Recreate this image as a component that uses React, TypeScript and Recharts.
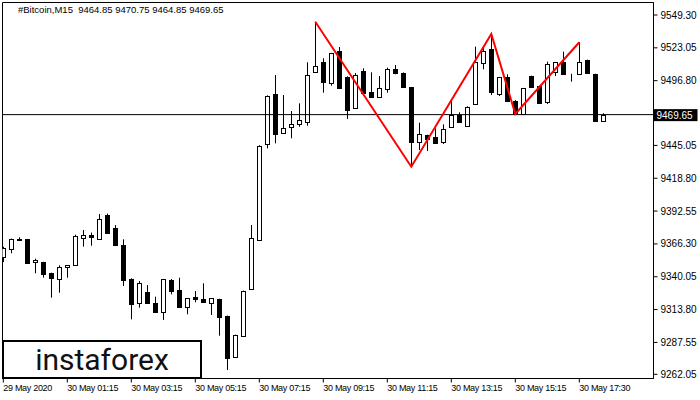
import React from "react";
import {
  Bar,
  ComposedChart,
  Line,
  ReferenceArea,
  ReferenceLine,
  XAxis,
  YAxis,
} from "recharts";

// M15 candles (oldest first)
const opens = [
  9355.6, 9362.0, 9369.6, 9370.0, 9351.6, 9351.8, 9343.0, 9338.5, 9347.6, 9349.2,
  9370.8, 9373.7, 9370.0, 9389.4, 9378.8, 9365.4, 9338.2, 9318.8, 9327.6, 9318.8,
  9311.6, 9337.4, 9329.4, 9315.6, 9324.1, 9322.2, 9318.8, 9322.2, 9308.7, 9276.1,
  9292.9, 9330.0, 9369.4, 9445.9, 9486.1, 9454.7, 9459.5, 9461.9, 9463.5, 9504.0,
  9511.5, 9495.2, 9520.5, 9500.0, 9475.3, 9504.5, 9488.0, 9484.0, 9489.9, 9506.1,
  9503.2, 9491.5, 9448.0, 9453.4, 9451.5, 9448.0, 9459.4, 9469.4, 9460.6, 9477.9,
  9510.7, 9521.9, 9485.9, 9499.5, 9480.5, 9470.2, 9500.5, 9492.5, 9480.0, 9504.0,
  9512.0, 9502.1, 9502.1, 9513.3, 9502.1, 9464.85,
];
const highs = [
  9364.0, 9370.6, 9371.6, 9370.3, 9354.5, 9352.0, 9343.3, 9349.2, 9349.5, 9373.7,
  9377.4, 9375.3, 9390.2, 9390.5, 9381.4, 9370.0, 9338.8, 9336.6, 9333.4, 9324.1,
  9338.3, 9338.2, 9339.3, 9323.0, 9328.6, 9334.8, 9323.0, 9322.5, 9309.0, 9293.8,
  9329.0, 9381.4, 9445.2, 9485.1, 9501.3, 9485.3, 9472.5, 9478.7, 9511.5, 9543.9,
  9514.7, 9519.0, 9523.7, 9500.3, 9502.9, 9506.7, 9503.5, 9500.5, 9507.2, 9509.3,
  9503.4, 9491.8, 9463.2, 9453.6, 9458.7, 9461.9, 9480.5, 9471.5, 9476.3, 9524.0,
  9523.5, 9534.1, 9499.8, 9501.9, 9481.3, 9491.0, 9500.8, 9492.8, 9512.0, 9511.8,
  9520.0, 9502.3, 9527.5, 9513.6, 9502.4, 9470.75,
];
const lows = [
  9351.8, 9358.8, 9369.4, 9351.0, 9342.8, 9339.3, 9323.3, 9327.3, 9339.3, 9349.0,
  9364.1, 9364.9, 9369.7, 9375.0, 9365.2, 9332.6, 9306.0, 9315.3, 9318.5, 9311.8,
  9305.5, 9326.0, 9315.8, 9310.0, 9319.6, 9319.4, 9309.5, 9292.9, 9265.5, 9275.8,
  9292.6, 9329.8, 9369.0, 9442.7, 9446.7, 9454.4, 9450.7, 9460.0, 9460.8, 9503.7,
  9487.2, 9492.8, 9490.9, 9466.2, 9475.0, 9487.0, 9483.7, 9483.7, 9487.2, 9501.9,
  9491.7, 9428.0, 9441.4, 9440.6, 9446.2, 9446.2, 9459.0, 9463.7, 9460.0, 9477.6,
  9505.9, 9485.3, 9484.5, 9480.5, 9469.9, 9469.9, 9491.7, 9478.4, 9478.1, 9500.5,
  9501.6, 9496.0, 9501.9, 9502.4, 9463.9, 9464.85,
];
const closes = [
  9362.8, 9370.0, 9370.2, 9351.3, 9353.4, 9342.5, 9339.3, 9347.6, 9349.2, 9372.6,
  9373.2, 9371.6, 9386.0, 9375.3, 9365.4, 9337.4, 9318.0, 9334.8, 9318.8, 9312.1,
  9338.0, 9328.9, 9316.1, 9322.8, 9322.0, 9319.6, 9322.8, 9308.1, 9274.8, 9293.5,
  9328.6, 9370.8, 9444.8, 9484.8, 9454.2, 9458.7, 9461.9, 9465.4, 9501.3, 9508.5,
  9496.0, 9518.7, 9491.2, 9473.3, 9501.3, 9487.2, 9484.0, 9490.7, 9505.9, 9502.7,
  9492.0, 9448.0, 9453.9, 9450.2, 9447.2, 9457.9, 9469.4, 9464.0, 9476.0, 9511.5,
  9520.8, 9488.0, 9499.5, 9480.8, 9470.2, 9490.7, 9492.0, 9478.7, 9510.1, 9511.5,
  9501.9, 9501.9, 9511.5, 9502.7, 9464.85, 9469.65,
];

// red pattern drawn over the candles
const patternIdx = [39, 51, 61, 64, 72];
const patternPrice = [9543.9, 9428.0, 9534.1, 9470.2, 9527.5];

const priceTicks = [
  9549.3, 9523.05, 9496.8, 9445.05, 9418.8, 9392.55, 9366.3, 9340.05, 9313.8,
  9287.55, 9262.05,
];
const timeTickIdx = [0, 8, 16, 24, 32, 40, 48, 56, 64, 72];
const timeTickLabels = [
  "29 May 2020",
  "30 May 01:15",
  "30 May 03:15",
  "30 May 05:15",
  "30 May 07:15",
  "30 May 09:15",
  "30 May 11:15",
  "30 May 13:15",
  "30 May 15:15",
  "30 May 17:30",
];

const lastPrice = 9469.65;
const title = "#Bitcoin,M15  9464.85 9470.75 9464.85 9469.65";

const X_DOMAIN: [number, number] = [-0.1, 81.275];
const Y_DOMAIN: [number, number] = [9258.7, 9559.3];
const FONT = "'Liberation Sans', Arial, sans-serif";

const data = opens.map((open, i) => {
  const k = patternIdx.indexOf(i);
  return {
    i,
    open,
    high: highs[i],
    low: lows[i],
    close: closes[i],
    pattern: k >= 0 ? patternPrice[k] : null,
  };
});

function Candle(props: any) {
  const { x, y, width, height, payload } = props;
  if (x == null || y == null) return null;
  const { open, high, low, close } = payload;
  const top = Math.min(y, y + height);
  const bot = Math.max(y, y + height);
  const range = high - low || 1;
  const toY = (p: number) => top + ((high - p) / range) * (bot - top);
  const cx = Math.round(x + width / 2) + 0.5;
  const bTop = Math.round(toY(Math.max(open, close))) + 0.5;
  const bBot = Math.max(Math.round(toY(Math.min(open, close))) + 0.5, bTop);
  const up = close >= open;
  return (
    <g>
      <line x1={cx} x2={cx} y1={top} y2={bot} stroke="#000" strokeWidth={1} />
      <rect
        x={cx - 2}
        y={bTop}
        width={4}
        height={bBot - bTop}
        fill={up ? "#fff" : "#000"}
        stroke="#000"
        strokeWidth={1}
      />
    </g>
  );
}

function TimeTick(props: any) {
  const { x, y, payload } = props;
  const k = timeTickIdx.indexOf(payload.value);
  return (
    <text
      x={x}
      y={y}
      dy="0.71em"
      textAnchor="start"
      fill="#000"
      fontSize={9}
      fontFamily={FONT}
      letterSpacing={-0.3}
    >
      {k >= 0 ? timeTickLabels[k] : ""}
    </text>
  );
}

function PriceTag(props: any) {
  const { viewBox } = props;
  if (!viewBox) return null;
  const x = viewBox.x + viewBox.width;
  const y = viewBox.y;
  return (
    <g>
      <rect x={x} y={y - 5.5} width={44} height={12} fill="#000" />
      <text x={x + 3} y={y + 4} fill="#fff" fontSize={10} fontFamily={FONT}>
        {lastPrice.toFixed(2)}
      </text>
    </g>
  );
}

export default function App() {
  return (
    <div
      style={{
        position: "absolute",
        left: 0,
        top: 0,
        width: 700,
        height: 400,
        background: "#fff",
      }}
    >
      <ComposedChart
        width={700}
        height={400}
        data={data}
        margin={{ top: 2.5, left: 2.5, right: 0, bottom: 0 }}
      >
        <XAxis
          dataKey="i"
          type="number"
          domain={X_DOMAIN}
          allowDataOverflow
          ticks={timeTickIdx}
          interval={0}
          height={21.5}
          tickSize={4}
          tickMargin={2}
          tick={<TimeTick />}
          axisLine={{ stroke: "#000" }}
          tickLine={{ stroke: "#000" }}
        />
        <YAxis
          orientation="right"
          domain={Y_DOMAIN}
          allowDataOverflow
          ticks={priceTicks}
          interval={0}
          width={46.5}
          tickSize={4}
          tickMargin={3}
          tickFormatter={(v: number) => v.toFixed(2)}
          tick={{ fill: "#000", fontSize: 10, fontFamily: FONT }}
          axisLine={{ stroke: "#000" }}
          tickLine={{ stroke: "#000" }}
        />
        <ReferenceArea
          x1={X_DOMAIN[0]}
          x2={X_DOMAIN[1]}
          y1={Y_DOMAIN[0]}
          y2={Y_DOMAIN[1]}
          fill="none"
          stroke="#000"
          strokeWidth={1}
          ifOverflow="visible"
        />
        <ReferenceLine
          y={lastPrice}
          stroke="#000"
          strokeWidth={1}
          label={<PriceTag />}
        />
        <Bar
          dataKey={(d: any) => [d.low, d.high]}
          barSize={6}
          shape={<Candle />}
          isAnimationActive={false}
        />
        <Line
          dataKey="pattern"
          stroke="#ff0000"
          strokeWidth={2}
          dot={false}
          activeDot={false}
          connectNulls
          isAnimationActive={false}
        />
      </ComposedChart>
      <div
        style={{
          position: "absolute",
          left: 18,
          top: 4,
          fontSize: 9.5,
          fontFamily: FONT,
          color: "#000",
          whiteSpace: "pre",
        }}
      >
        {title}
      </div>
      <div
        style={{
          position: "absolute",
          left: 2,
          top: 340,
          width: 196,
          height: 35,
          border: "2px solid #000",
          background: "#fff",
          display: "flex",
          alignItems: "center",
          justifyContent: "center",
          fontFamily: "Roboto, sans-serif",
          fontSize: 30,
          color: "#111",
          lineHeight: "35px",
        }}
      >
        instaforex
      </div>
    </div>
  );
}
